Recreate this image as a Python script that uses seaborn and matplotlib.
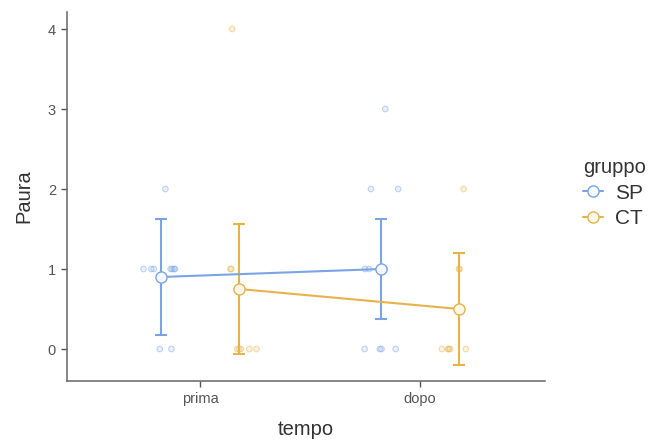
import numpy as np
import pandas as pd
import matplotlib
matplotlib.use("Agg")
import matplotlib.pyplot as plt
from matplotlib.lines import Line2D
from matplotlib.colors import to_rgba
import seaborn as sns

# ---------------- data ----------------
tempo = ["prima", "dopo"]
gruppi = ["SP", "CT"]

sp_prima = [2, 1, 1, 1, 1, 1, 1, 1, 0, 0]
ct_prima = [4, 1, 1, 0, 0, 0, 0, 0]
sp_dopo = [3, 2, 2, 1, 1, 1, 0, 0, 0, 0]
ct_dopo = [2, 1, 1, 0, 0, 0, 0, 0]

mean_sp = [0.9, 1.0]
mean_ct = [0.75, 0.5]
ci_lo_sp = [0.18, 0.37]
ci_hi_sp = [1.62, 1.63]
ci_lo_ct = [-0.06, -0.20]
ci_hi_ct = [1.56, 1.20]

colors = {"SP": "#7BA3E8", "CT": "#E6B34A"}
fills = {"SP": "#F4F8FF", "CT": "#FFF8E6"}

# ---------------- frames ----------------
dodge = {"SP": -0.1775, "CT": 0.1775}
raw_sets = {("prima", "SP"): sp_prima, ("prima", "CT"): ct_prima,
            ("dopo", "SP"): sp_dopo, ("dopo", "CT"): ct_dopo}
rng = np.random.default_rng(7)
rows = []
for (t, g), vals in raw_sets.items():
    for v in vals:
        rows.append({"tempo": t, "gruppo": g, "Paura": v,
                     "x": tempo.index(t) + dodge[g] + rng.uniform(-0.08, 0.08)})
raw = pd.DataFrame(rows)

summ_rows = []
for g, m, lo, hi in [("SP", mean_sp, ci_lo_sp, ci_hi_sp), ("CT", mean_ct, ci_lo_ct, ci_hi_ct)]:
    for i, t in enumerate(tempo):
        summ_rows.append({"tempo": t, "gruppo": g, "mean": m[i], "lo": lo[i], "hi": hi[i],
                          "x": i + dodge[g]})
summ = pd.DataFrame(summ_rows)

# ---------------- plot ----------------
sns.set_theme(style="ticks")
plt.rcParams["font.family"] = ["Liberation Sans", "DejaVu Sans"]

fig = plt.figure(figsize=(6.54, 4.48), dpi=100)
ax = fig.add_axes([67 / 654, 1 - 381 / 448, (545 - 67) / 654, (381 - 12) / 448])

sns.scatterplot(data=raw, x="x", y="Paura", hue="gruppo", palette=colors,
                hue_order=gruppi, s=16, linewidth=0.8,
                legend=False, ax=ax, zorder=1)
coll = ax.collections[0]
fc = coll.get_facecolors()
ec = fc.copy()
ec[:, 3] = 0.45
fc2 = fc.copy()
fc2[:, 3] = 0.15
coll.set_facecolors(fc2)
coll.set_edgecolors(ec)

for g in gruppi:
    d = summ[summ["gruppo"] == g]
    eb = ax.errorbar(d["x"], d["mean"], yerr=[d["mean"] - d["lo"], d["hi"] - d["mean"]],
                     fmt="none", ecolor=colors[g], elinewidth=1.5, capsize=4,
                     capthick=1.5, zorder=2)
    for cap in eb[1]:
        cap.set_color(colors[g])
        cap.set_markeredgecolor(colors[g])
        cap.set_markerfacecolor(colors[g])

sns.lineplot(data=summ, x="x", y="mean", hue="gruppo", palette=colors,
             hue_order=gruppi, marker="o", markersize=8,
             markeredgewidth=1.0, linewidth=1.5, legend=False, ax=ax, zorder=3)
for ln in ax.lines:
    if ln.get_linestyle() in ("None", "none", ""):
        continue
    c = ln.get_color()
    ln.set_markeredgecolor(c)
    for g in gruppi:
        if np.allclose(to_rgba(c), to_rgba(colors[g])):
            ln.set_markerfacecolor(fills[g])

ax.set_xlim(-0.6045, 1.568)
ax.set_ylim(-0.4, 4.2125)
ax.set_xticks([0, 1])
ax.set_xticklabels(tempo)
ax.set_yticks([0, 1, 2, 3, 4])
ax.set_xlabel("tempo", fontsize=14.5, color="#333333", labelpad=10)
ax.set_ylabel("Paura", fontsize=14.5, color="#333333", labelpad=10)
ax.tick_params(axis="both", labelsize=10.5, labelcolor="#555555", color="#555555",
               length=4, width=1, pad=4)
sns.despine(ax=ax)
for s in ["left", "bottom"]:
    ax.spines[s].set_color("#666666")
    ax.spines[s].set_linewidth(1.1)

handles = [Line2D([], [], color=colors[g], marker="o", markersize=8,
                  markerfacecolor=fills[g], markeredgecolor=colors[g],
                  markeredgewidth=1.0, linewidth=1.5) for g in gruppi]
leg = fig.legend(handles, gruppi, title="gruppo", loc="upper left",
                 bbox_to_anchor=(575 / 654, 1 - 150 / 448), frameon=False,
                 fontsize=15, title_fontsize=14.5, handlelength=0.95,
                 handletextpad=0.55, labelspacing=0.3, borderaxespad=0)
leg._legend_box.align = "left"
for t in leg.get_texts():
    t.set_color("#333333")
leg.get_title().set_color("#333333")

fig.savefig("out.png", dpi=100)
